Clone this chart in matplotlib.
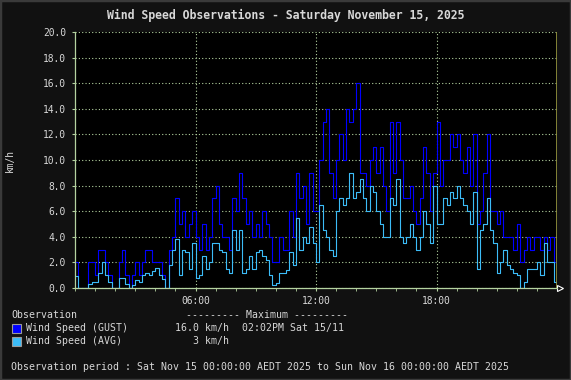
import numpy as np
import matplotlib.pyplot as plt
from matplotlib.patches import Rectangle

# 10-minute samples, 00:00 -> 24:00 (km/h)
gust = [2, 0, 0, 0, 2, 2,   1, 3, 3, 2, 1, 0,   0, 2, 3, 1, 0, 1,
        2, 1, 2, 3, 3, 2,   2, 2, 1, 0, 3, 4,   7, 5, 6, 4, 5, 6,
        4, 3, 5, 3, 4, 7,   8, 5, 4, 4, 3, 7,   6, 9, 7, 5, 6, 4,
        5, 4, 6, 5, 4, 2,   2, 4, 3, 3, 6, 4,   9, 7, 8, 5, 9, 6,
        6, 10, 13, 14, 9, 7,   10, 12, 10, 14, 13, 14,   16, 9, 9, 8, 10, 11,
        9, 11, 8, 6, 13, 9,   13, 10, 7, 7, 8, 6,   5, 7, 11, 9, 6, 9,
        13, 8, 10, 10, 12, 11,   12, 10, 9, 11, 8, 12,   5, 6, 9, 12, 6, 6,
        5, 6, 4, 4, 4, 3,   5, 2, 3, 4, 3, 4,   4, 3, 4, 3, 4, 2]
avg = [0.9, 0, 0, 0, 0.3, 0.5,   0.5, 1.2, 2.0, 1.0, 0.5, 0,   0, 0.8, 0.8, 0.3, 0, 0.2,
       0.6, 0.5, 1.0, 1.2, 1.0, 1.3,   1.6, 1.0, 0.7, 0, 1.8, 3.0,   3.8, 1.0, 3.0, 2.8, 1.5, 3.5,
       0.8, 1.0, 2.5, 1.5, 2.0, 3.5,   3.5, 3.0, 2.8, 1.5, 1.2, 4.5,   3.0, 4.5, 1.2, 1.5, 2.5, 1.5,
       2.8, 3.0, 2.5, 2.2, 1.0, 0.2,   0.4, 1.2, 1.2, 1.4, 2.8, 1.8,   5.5, 3.0, 4.0, 3.5, 4.8, 3.5,
       2.0, 6.5, 4.5, 4.0, 3.0, 2.5,   6.0, 7.0, 6.5, 7.0, 9.0, 7.0,   7.5, 8.5, 7.0, 6.0, 8.0, 7.5,
       6.0, 5.0, 4.0, 4.0, 7.0, 6.5,   8.5, 4.0, 3.5, 4.0, 5.0, 4.0,   3.0, 4.0, 6.0, 5.0, 3.5, 8.0,
       5.0, 5.0, 7.0, 6.5, 7.5, 7.0,   8.0, 7.0, 6.5, 6.0, 5.0, 7.5,   1.5, 4.5, 5.0, 7.0, 4.5, 3.5,
       1.2, 2.0, 3.0, 1.8, 1.5, 1.2,   1.0, 0.0, 0.5, 1.5, 1.5, 1.5,   2.0, 1.0, 3.5, 2.0, 2.0, 0.5]
yticks = [0, 2, 4, 6, 8, 10, 12, 14, 16, 18, 20]
xticks = [6, 12, 18]
xlabels = ['06:00', '12:00', '18:00']

W, H = 571, 380
txt = '#d8d8d8'
grid_c = '#b4d2a0'
mono = 'DejaVu Sans Mono'

fig = plt.figure(figsize=(W / 100, H / 100), dpi=100, facecolor='#111111')
fig.patches.append(Rectangle((0, 0), 1, 1, transform=fig.transFigure, fill=False,
                             edgecolor='#3a3a3a', lw=2.5))
ax = fig.add_axes([75 / W, 1 - 288 / H, (557 - 75) / W, (288 - 32) / H])
ax.set_facecolor('black')

t = np.append(np.arange(len(gust)) / 6, 24)
ax.step(t, np.append(gust, gust[-1]), where='post', color='#0000ff', lw=0.8)
ax.step(t, np.append(avg, avg[-1]), where='post', color='#3cbcf8', lw=0.8)

ax.set_xlim(0, 24)
ax.set_ylim(0, 20)
ax.set_yticks(yticks)
ax.set_yticklabels(['%.1f' % v for v in yticks])
ax.set_xticks(xticks)
ax.set_xticklabels(xlabels)
ax.set_xticks(range(0, 25), minor=True)
ax.tick_params(axis='both', colors=txt, labelsize=6.9, length=2.5, width=0.8)
ax.tick_params(axis='y', pad=4)
ax.tick_params(axis='x', pad=3)
ax.tick_params(axis='x', which='minor', length=2, color=grid_c)
ax.tick_params(axis='both', which='major', color=grid_c)
for lbl in ax.get_xticklabels() + ax.get_yticklabels():
    lbl.set_family(mono)
ax.grid(True, color=grid_c, linestyle=(0, (1, 2)), lw=0.8)
ax.axvline(24, color='#9a9a40', lw=1.2)
for s in ['top', 'right']:
    ax.spines[s].set_visible(False)
for s in ['left', 'bottom']:
    ax.spines[s].set_color(grid_c)
    ax.spines[s].set_linewidth(0.9)
ax.plot([24.15], [0], marker='>', ms=5, mfc='none', mec='white', mew=0.8, clip_on=False)
ax.set_ylabel('km/h', color=txt, fontsize=6.9, family=mono, labelpad=20)

fig.text(0.5, 1 - 15 / H, 'Wind Speed Observations - Saturday November 15, 2025',
         ha='center', va='center', color=txt, fontsize=8.3, family=mono, weight='bold')

fs = 7.1
def line(x, y, s, **kw):
    fig.text(x / W, 1 - y / H, s, color=txt, fontsize=fs, family=mono, va='center', **kw)

line(11, 315, 'Observation')
line(186, 315, '--------- Maximum ---------')
for y, c, name, val in [(328, '#0000ff', 'Wind Speed (GUST)', '16.0 km/h'),
                        (341, '#3cbcf8', 'Wind Speed (AVG)', '3 km/h')]:
    fig.patches.append(Rectangle((12 / W, 1 - (y + 4.5) / H), 9 / W, 9 / H,
                                 transform=fig.transFigure, facecolor=c,
                                 edgecolor='#9a9a9a', lw=0.8))
    line(26, y, name)
    line(229, y, val, ha='right')
line(242, 328, '02:02PM Sat 15/11')
line(11, 367, 'Observation period : Sat Nov 15 00:00:00 AEDT 2025 to Sun Nov 16 00:00:00 AEDT 2025')

fig.savefig('out.png', dpi=100, facecolor=fig.get_facecolor())
